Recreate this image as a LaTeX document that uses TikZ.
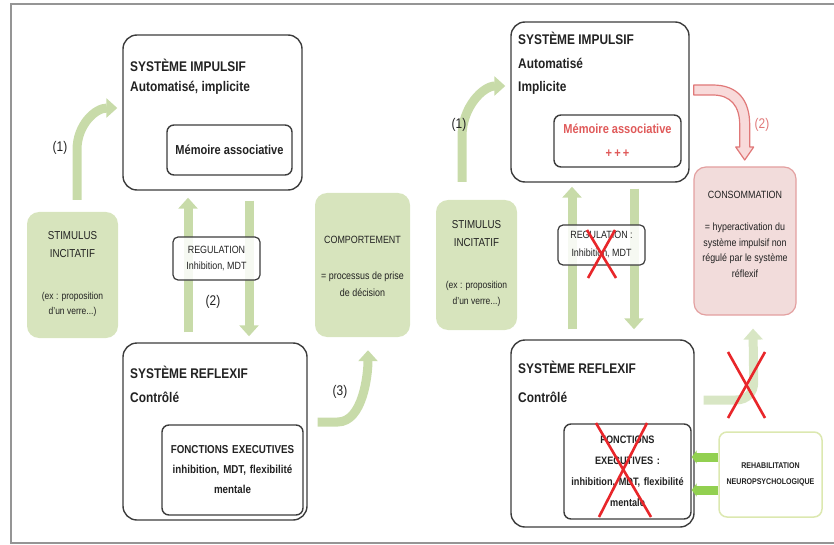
\documentclass[tikz,border=0pt]{standalone}
\usepackage{fontspec}
\setmainfont{Liberation Sans}[FakeStretch=0.85]
\usetikzlibrary{arrows.meta,calc}
\definecolor{garrow}{HTML}{C8DBA9}
\definecolor{garrowfade}{HTML}{D8E6C4}
\definecolor{gfill}{HTML}{D7E4BD}
\definecolor{pfill}{HTML}{F2DCDB}
\definecolor{pdraw}{HTML}{E3A0A0}
\definecolor{redarrow}{HTML}{E07878}
\definecolor{redarrowfill}{HTML}{F8DADA}
\definecolor{xred}{HTML}{E8262A}
\definecolor{memred}{HTML}{E05A5A}
\definecolor{bgreen}{HTML}{92D050}
\definecolor{rehabdraw}{HTML}{DCE8B0}
\definecolor{boxdraw}{HTML}{3C3C3C}
\definecolor{framegray}{HTML}{959595}
\definecolor{txt}{HTML}{222222}
\newcommand\fsz[2]{\fontsize{#1}{#2}\selectfont}
\begin{document}
\begin{tikzpicture}[x=1pt,y=-1pt,
  every node/.style={text=txt},
  sysbox/.style={draw=boxdraw,line width=1.4pt,rounded corners=14pt,inner sep=0pt,fill=white},
  innerbox/.style={draw=boxdraw,line width=1.4pt,rounded corners=7pt,inner sep=0pt,fill=white,align=center},
  greenbox/.style={fill=gfill,rounded corners=12pt,inner sep=0pt},
  regbox/.style={draw=boxdraw,line width=1.2pt,rounded corners=5pt,inner sep=0pt,fill=white,fill opacity=0.85,text opacity=1,align=center},
  bigarrow/.style={draw=garrow,line width=9pt,-{Triangle[width=19pt,length=11pt]}},
  fadearrow/.style={draw=garrowfade,line width=9pt,-{Triangle[width=19pt,length=11pt]}},
  rehabarrow/.style={draw=bgreen,line width=9pt,-{Triangle[width=13pt,length=5pt]}},
  crossline/.style={draw=xred,line width=2.6pt},
  title/.style={anchor=west,inner sep=0pt,font=\fsz{14}{16}\bfseries},
  subtitle/.style={anchor=west,inner sep=0pt,font=\fsz{14}{16}\bfseries},
  small/.style={inner sep=0pt,align=center},
  numlabel/.style={inner sep=0pt,font=\fsz{14}{16}}
]
\useasboundingbox (0,0) rectangle (834,545);
\draw[framegray,line width=2pt] (834,4) -- (11,4) -- (11,543) -- (834,543);

% ---------------- LEFT PANEL ----------------
\node[sysbox,minimum width=179pt,minimum height=155pt] (Limp) at (212.5,112.5) {};
\node[sysbox,minimum width=184pt,minimum height=177pt] (Lref) at (215,431.5) {};
\node[greenbox,minimum width=91pt,minimum height=126pt] (Lstim) at (72.5,275) {};
\node[greenbox,minimum width=95pt,minimum height=144pt] (Lcomp) at (362.5,265) {};

% arrows
\draw[bigarrow] ([xshift=4.5pt,yshift=12pt]Lstim.north) -- ++(0,-50)
  .. controls +(0,-25) and +(-22,0) .. ([xshift=-5pt,yshift=4.5pt]Limp.west);
\draw[bigarrow,shorten <=10pt,shorten >=7pt] (188,0 |- Lref.north) -- (188,0 |- Limp.south);
\draw[bigarrow,shorten <=10pt,shorten >=6pt] (249,0 |- Limp.south) -- (249,0 |- Lref.north);
\draw[bigarrow] ([xshift=10pt,yshift=9.5pt]Lref.east) -- ++(20,0)
  .. controls +(25,0) and +(0,25) .. ([xshift=5.5pt,yshift=-13pt]Lcomp.south);

\node[innerbox,minimum width=125pt,minimum height=50pt,font=\fsz{13}{15}\bfseries] (Lmem) at (229.5,150) {Mémoire associative};
\node[innerbox,minimum width=141pt,minimum height=90pt,font=\fsz{11.5}{20}\bfseries,text width=137pt] (Lfe) at (232.5,470)
  {FONCTIONS EXECUTIVES\\ inhibition, MDT, flexibilité\\ mentale};
\node[regbox,minimum width=87pt,minimum height=43pt,font=\fsz{10.5}{16}] (Lreg) at (216.5,258.5)
  {REGULATION\\ Inhibition, MDT};

\node[title] (LimpT) at (130,65) {SYSTÈME IMPULSIF};
\node[subtitle] (LimpS) at (130,88) {Automatisé, implicite};
\node[title] (LrefT) at (130,372) {SYSTÈME REFLEXIF};
\node[subtitle] (LrefS) at (130,397) {Contrôlé};

\node[small,font=\fsz{11.5}{18}] (LstimT) at (72.5,245) {STIMULUS\\ INCITATIF};
\node[small,font=\fsz{10}{15}] (LstimE) at (72.5,304.5) {(ex : proposition\\ d'un verre...)};
\node[small,font=\fsz{10.5}{17}] (LcompT) at (362.5,240) {COMPORTEMENT};
\node[small,font=\fsz{10.5}{17}] (LcompE) at (362.5,284.5) {= processus de prise\\ de décision};

\node[numlabel] (L1) at (60,148) {(1)};
\node[numlabel] (L2) at (213,302) {(2)};
\node[numlabel] (L3) at (340,392) {(3)};

% ---------------- RIGHT PANEL ----------------
\node[sysbox,minimum width=178pt,minimum height=160pt] (Rimp) at (600,102) {};
\node[sysbox,minimum width=183pt,minimum height=187pt] (Rref) at (602.5,433.5) {};
\node[greenbox,minimum width=81pt,minimum height=130pt] (Rstim) at (476.5,265) {};
\node[draw=pdraw,fill=pfill,line width=1.2pt,rounded corners=12pt,inner sep=0pt,minimum width=102pt,minimum height=148pt] (Rcons) at (745,241) {};
\node[draw=rehabdraw,fill=white,line width=1.5pt,rounded corners=8pt,inner sep=0pt,minimum width=103pt,minimum height=85pt,align=center,font=\fsz{8.3}{16}\bfseries] (Rreh) at (770.5,474.5)
  {REHABILITATION\\ NEUROPSYCHOLOGIQUE};

\draw[bigarrow] ([xshift=-14.5pt,yshift=18pt]Rstim.north) -- ++(0,-45)
  .. controls +(0,-30) and +(-22,0) .. ([xshift=-5pt,yshift=16pt]Rimp.west);
\draw[bigarrow,shorten <=10pt,shorten >=4pt] (572,0 |- Rref.north) -- (572,0 |- Rimp.south);
\draw[bigarrow,shorten <=6pt,shorten >=10pt] (634,0 |- Rimp.south) -- (634,0 |- Rref.north);
\draw[fadearrow] ([xshift=9pt,yshift=33.5pt]Rref.east) -- ++(32,0)
  .. controls +(12,0) and +(0,10) .. ++(18,-18) -- ([xshift=8pt,yshift=-13pt]Rcons.south);

% red hollow arrow (2)
\draw[draw=redarrow,fill=redarrowfill,line width=1.2pt,line join=round]
  ([xshift=4pt,yshift=17pt]Rimp.east) -- ++(19,0)
  .. controls +(25,0) and +(0,-25) .. ++(37,40)
  -- ++(0,22) -- ++(4,0) -- ++(-9,13) -- ++(-9,-13) -- ++(4,0) -- ++(0,-22)
  .. controls +(0,-19) and +(18,0) .. ++(-27,-30)
  -- ++(-19,0) -- cycle;

\node[innerbox,minimum width=127pt,minimum height=52pt,text=memred,font=\fsz{13}{24}\bfseries] (Rmem) at (617.5,141)
  {Mémoire associative\\ +\,+\,+};
\node[innerbox,minimum width=127pt,minimum height=95pt,font=\fsz{10.8}{21}\bfseries,text width=125pt] (Rfe) at (627.5,471.5)
  {FONCTIONS\\ EXECUTIVES :\\ inhibition, MDT, flexibilité\\ mentale};
\node[regbox,minimum width=87pt,minimum height=40pt,font=\fsz{10.5}{18}] (Rreg) at (601.5,245)
  {REGULATION :\\ Inhibition, MDT};

\draw[rehabarrow] ([yshift=17.5pt]Rreh.west) -- ([yshift=17.5pt]Rreh.west -| Rfe.east);
\draw[rehabarrow] ([yshift=-15.5pt]Rreh.west) -- ([yshift=-15.5pt]Rreh.west -| Rfe.east);

\node[title] (RimpT) at (518,38) {SYSTÈME IMPULSIF};
\node[subtitle] (RimpS1) at (518,63) {Automatisé};
\node[subtitle] (RimpS2) at (518,88) {Implicite};
\node[title] (RrefT) at (518,367) {SYSTÈME REFLEXIF};
\node[subtitle] (RrefS) at (518,397) {Contrôlé};

\node[small,font=\fsz{11.5}{18}] (RstimT) at (476.5,234) {STIMULUS\\ INCITATIF};
\node[small,font=\fsz{10}{16}] (RstimE) at (476.5,293.5) {(ex : proposition\\ d'un verre...)};
\node[small,font=\fsz{10.5}{15}] (RconsT) at (745,195) {CONSOMMATION};
\node[small,font=\fsz{10.5}{15.5}] (RconsE) at (745,250) {= hyperactivation du\\ système impulsif non\\ régulé par le système\\ réflexif};

\node[numlabel] (R1) at (459,125) {(1)};
\node[numlabel,text=redarrow] (R2) at (762,125) {(2)};

% red crosses
\draw[crossline] (587,230) -- (616,278);
\draw[crossline] (615,230) -- (588,278);
\draw[crossline] (596,423) -- (651,517);
\draw[crossline] (647,423) -- (599,517);
\draw[crossline] (728,352) -- (765,418);
\draw[crossline] (765,352) -- (728,418);
\end{tikzpicture}
\end{document}
